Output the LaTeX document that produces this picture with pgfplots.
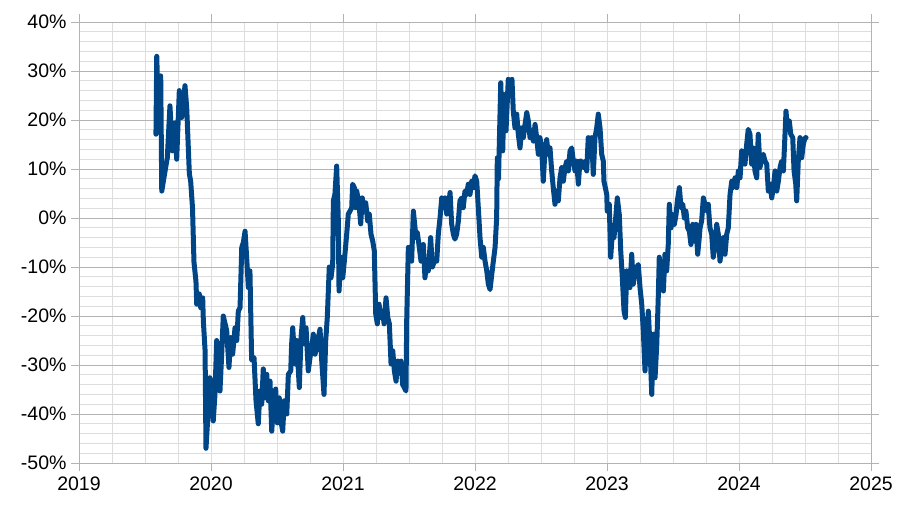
\documentclass[border=0pt]{standalone}
\usepackage{pgfplots}
\pgfplotsset{compat=1.18}
\usepackage{fontspec}
\setmainfont{Liberation Sans}
\definecolor{series}{HTML}{004586}
\definecolor{majgrid}{HTML}{B3B3B3}
\definecolor{mingrid}{HTML}{DDDDDD}
\begin{document}
\begin{tikzpicture}
\begin{axis}[
  scale only axis,
  width=792bp, height=441bp,
  xmin=2019, xmax=2025, ymin=-50, ymax=40,
  xtick={2019,2020,2021,2022,2023,2024,2025},
  xticklabels={2019,2020,2021,2022,2023,2024,2025},
  ytick={-50,-40,-30,-20,-10,0,10,20,30,40},
  yticklabels={-50\%,-40\%,-30\%,-20\%,-10\%,0\%,10\%,20\%,30\%,40\%},
  minor x tick num=3,
  minor y tick num=4,
  grid=both,
  major grid style={majgrid, line width=0.9bp},
  minor grid style={mingrid, line width=0.9bp},
  major x grid style={mingrid, line width=0.9bp},
  axis line style={majgrid, line width=0.9bp},
  tick align=outside,
  major tick length=8bp,
  minor tick length=0bp,
  tick style={majgrid, line width=0.9bp},
  tick label style={font=\fontsize{19.5bp}{23bp}\selectfont, text=black},
  /pgf/number format/assume math mode=true,
  xticklabel style={yshift=-2bp},
  yticklabel style={xshift=-1bp},
  clip=true,
]
\addplot[color=series, line width=5bp, line join=round, line cap=round] table {
2019.583 17.1
2019.589 33
2019.602 20.5
2019.619 29
2019.627 5.5
2019.652 9.6
2019.669 12.3
2019.689 22.9
2019.707 13.7
2019.727 19.4
2019.740 12
2019.760 26
2019.778 20.5
2019.803 27
2019.816 22.5
2019.836 9
2019.846 7.5
2019.860 2
2019.871 -9
2019.886 -12.9
2019.892 -17.6
2019.911 -15.5
2019.922 -18.3
2019.937 -16.3
2019.942 -21
2019.955 -27
2019.962 -47
2019.980 -38.7
2019.992 -32.6
2020.005 -38
2020.017 -41.4
2020.030 -36
2020.043 -25
2020.055 -28.5
2020.068 -35.3
2020.081 -27.8
2020.093 -20
2020.119 -23
2020.136 -30.5
2020.149 -24.4
2020.164 -27.8
2020.182 -22.4
2020.195 -25
2020.207 -19
2020.220 -18.3
2020.233 -6
2020.245 -5
2020.258 -2.7
2020.270 -8
2020.283 -14.2
2020.295 -10.8
2020.308 -29
2020.326 -28.5
2020.341 -37.3
2020.358 -42
2020.371 -35.3
2020.384 -38
2020.396 -30.8
2020.409 -36.7
2020.422 -31.9
2020.434 -37.3
2020.447 -33.3
2020.460 -43.5
2020.472 -38.7
2020.490 -34.9
2020.502 -41.8
2020.517 -36.7
2020.530 -41.4
2020.543 -43.5
2020.555 -37.3
2020.574 -40
2020.586 -31.9
2020.604 -31.2
2020.611 -25.7
2020.619 -22.4
2020.636 -29.8
2020.649 -25
2020.669 -34.6
2020.682 -24.4
2020.695 -20.3
2020.707 -25.7
2020.720 -22.4
2020.737 -31.2
2020.750 -28.5
2020.763 -26.5
2020.775 -23.7
2020.788 -27.8
2020.801 -26.5
2020.813 -24.4
2020.826 -22.7
2020.839 -29.2
2020.856 -36
2020.869 -25
2020.881 -20.3
2020.896 -10
2020.909 -12.2
2020.922 -9.4
2020.927 3.5
2020.939 4.9
2020.952 10.6
2020.964 0
2020.970 -14.9
2020.983 -8
2020.998 -12.2
2021.010 -8.8
2021.028 -3.3
2021.040 0.8
2021.053 1.4
2021.066 2.1
2021.073 6.9
2021.086 6.2
2021.096 2.1
2021.104 5.5
2021.121 2.9
2021.134 -1.2
2021.146 4.1
2021.159 1.4
2021.172 3.1
2021.187 -0.6
2021.199 0.8
2021.212 -3.3
2021.225 -4.7
2021.237 -6.7
2021.248 -19.6
2021.260 -21.6
2021.273 -17.6
2021.286 -20.3
2021.301 -19
2021.311 -21.6
2021.326 -16.3
2021.339 -20.3
2021.351 -21.6
2021.364 -29.8
2021.377 -27.1
2021.389 -31.2
2021.402 -33.3
2021.414 -29.2
2021.427 -30.5
2021.439 -29.2
2021.452 -34
2021.464 -34.6
2021.477 -35.3
2021.483 -20.3
2021.495 -6
2021.520 -8.8
2021.533 1.4
2021.553 -4
2021.563 -3
2021.578 -6
2021.591 -8.8
2021.608 -5.4
2021.621 -12.2
2021.634 -8.8
2021.646 -10.8
2021.664 -4
2021.677 -10
2021.692 -8.8
2021.710 -8.8
2021.722 -3.3
2021.735 0
2021.748 4.1
2021.760 2.1
2021.773 4.1
2021.786 0.8
2021.798 2.1
2021.811 5.2
2021.823 -1.2
2021.836 -3.3
2021.848 -4.3
2021.861 -3.3
2021.874 -0.6
2021.886 3.5
2021.899 4.1
2021.911 2.1
2021.924 5.5
2021.937 4.8
2021.949 6.9
2021.962 4.8
2021.975 7.5
2021.987 6.2
2022.000 8.6
2022.013 7.5
2022.025 2.1
2022.038 -4
2022.051 -8
2022.063 -6
2022.076 -8.8
2022.089 -10.8
2022.101 -13.5
2022.114 -14.6
2022.127 -11.5
2022.139 -8.8
2022.152 -6
2022.164 0
2022.169 12.3
2022.178 8
2022.195 27.6
2022.210 13.7
2022.220 25.2
2022.235 17.8
2022.252 28.3
2022.270 25.2
2022.280 28.3
2022.290 21.8
2022.303 18.4
2022.316 21.2
2022.328 17.1
2022.341 14.3
2022.354 18.4
2022.366 16.4
2022.379 19.1
2022.392 21.5
2022.404 19.8
2022.417 16.4
2022.430 17.8
2022.442 15.7
2022.455 19.1
2022.467 16.4
2022.480 13
2022.492 16.4
2022.505 14.3
2022.517 7.5
2022.530 13.7
2022.543 16
2022.555 13
2022.568 14.3
2022.581 9.6
2022.593 6.2
2022.606 2.8
2022.619 5.5
2022.631 3.5
2022.644 8.2
2022.657 10.3
2022.669 7.5
2022.682 10.3
2022.695 11.6
2022.707 9.6
2022.720 13.7
2022.733 14.3
2022.745 11.6
2022.758 9.6
2022.770 11.6
2022.783 6.9
2022.795 11.6
2022.808 11.6
2022.820 10.3
2022.833 11.6
2022.846 9.6
2022.858 16.4
2022.871 15
2022.884 16.4
2022.896 8.9
2022.909 16.4
2022.922 18.4
2022.934 21.2
2022.947 18.4
2022.960 13
2022.972 11.6
2022.977 7.5
2022.998 4.8
2023.002 1.4
2023.017 2.8
2023.028 -8
2023.043 -2
2023.053 -4
2023.068 0.7
2023.078 4.1
2023.093 0.7
2023.104 -6.7
2023.116 -12.2
2023.129 -19
2023.139 -20.3
2023.149 -10.8
2023.161 -12.9
2023.174 -14.2
2023.187 -7.4
2023.199 -13.5
2023.212 -10.8
2023.225 -10.1
2023.237 -9.5
2023.250 -14.2
2023.263 -17.6
2023.275 -23
2023.288 -31.2
2023.301 -23.7
2023.313 -19
2023.326 -26.5
2023.339 -36
2023.351 -23.7
2023.364 -32.6
2023.377 -25.8
2023.389 -15.6
2023.396 -8
2023.407 -14.2
2023.419 -10.8
2023.427 -14.9
2023.439 -7.4
2023.452 -10.8
2023.464 -5.4
2023.472 2.8
2023.485 -2
2023.498 0.7
2023.510 -1.3
2023.523 0.7
2023.533 3.5
2023.548 6.2
2023.561 2.1
2023.574 2.8
2023.586 0
2023.598 1.4
2023.611 -2
2023.624 -2.7
2023.636 -5.4
2023.649 -1.3
2023.661 -4.7
2023.674 -1.3
2023.687 -7.4
2023.699 -4
2023.705 -2
2023.717 -0.6
2023.730 4.1
2023.742 2.8
2023.755 1.4
2023.767 2.8
2023.780 -2
2023.793 -3.3
2023.805 -8
2023.818 -5.4
2023.831 -1.3
2023.843 -3.3
2023.856 -8.8
2023.869 -6
2023.881 -4
2023.894 -7.4
2023.907 -3.3
2023.919 -2
2023.932 4.8
2023.945 7.5
2023.957 6.2
2023.970 8.2
2023.983 6.2
2023.995 9.6
2024.008 8.2
2024.020 13.7
2024.033 12.3
2024.045 11
2024.058 15
2024.070 18.1
2024.083 17.1
2024.096 11
2024.108 14.3
2024.121 9.6
2024.134 8.2
2024.146 17.1
2024.159 10.3
2024.172 12.3
2024.184 13
2024.197 11.6
2024.210 11
2024.222 5.5
2024.235 6.9
2024.248 4.1
2024.260 6.2
2024.273 9.6
2024.286 5.5
2024.298 7.5
2024.311 10.3
2024.323 11.6
2024.336 9.6
2024.343 13.7
2024.356 21.8
2024.366 18.4
2024.381 19.8
2024.392 17.1
2024.407 16.4
2024.417 9.6
2024.430 6.9
2024.437 3.5
2024.449 11.6
2024.462 16.4
2024.475 12.3
2024.487 15
2024.500 16.4
2024.508 16.4
};
\end{axis}
\pgfresetboundingbox
\path ([shift={(-79bp,-47bp)}]current axis.south west) rectangle ([shift={(42bp,22bp)}]current axis.north east);
\end{tikzpicture}
\end{document}
